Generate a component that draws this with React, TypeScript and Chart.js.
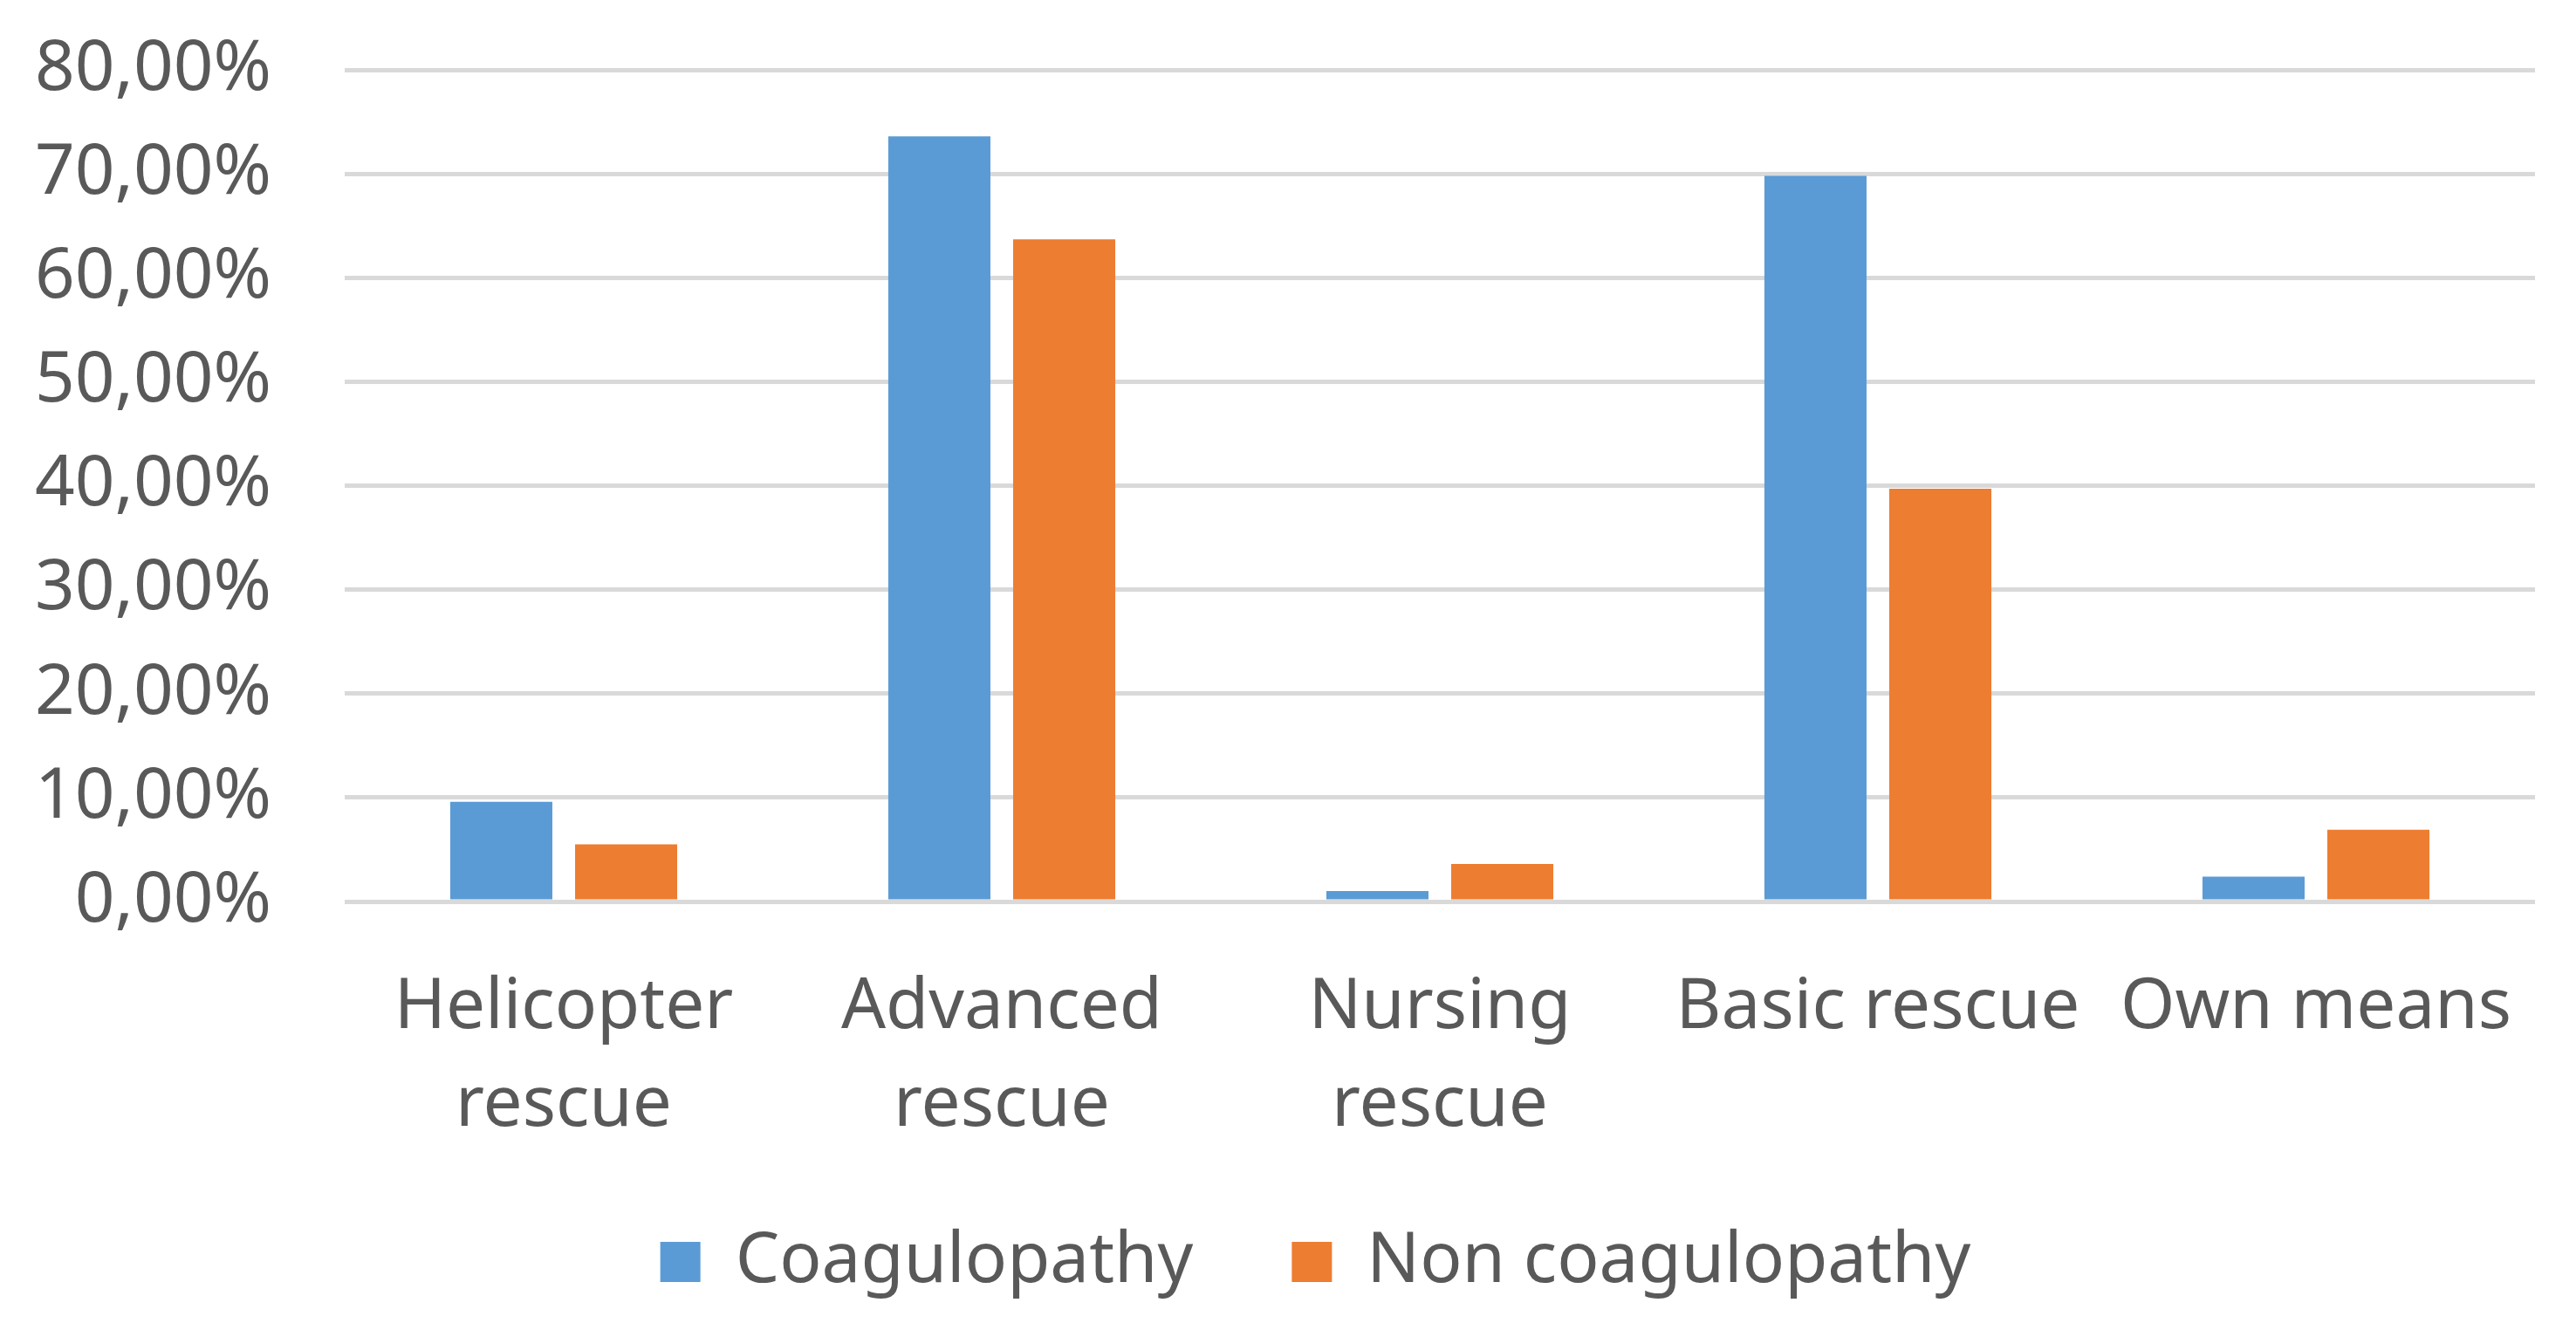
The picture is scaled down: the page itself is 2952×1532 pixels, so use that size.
import React, { useEffect, useRef } from "react";
import { Chart, registerables } from "chart.js";

Chart.register(...registerables);

const categories: (string | string[])[] = [
  ["Helicopter", "rescue"],
  ["Advanced", "rescue"],
  ["Nursing", "rescue"],
  "Basic rescue",
  "Own means",
];
const coagulopathy = [9.6, 73.6, 1.0, 69.8, 2.4];
const nonCoagulopathy = [5.5, 63.7, 3.6, 39.7, 6.9];
const seriesNames = ["Coagulopathy", "Non coagulopathy"];
const yMin = 0;
const yMax = 80;
const yStep = 10;

const FONT = "'Noto Sans', 'Open Sans', sans-serif";
const TEXT = "#595959";

export default function App() {
  const ref = useRef<HTMLCanvasElement | null>(null);

  useEffect(() => {
    if (!ref.current) return;
    const chart = new Chart(ref.current, {
      type: "bar",
      data: {
        labels: categories,
        datasets: [
          {
            label: seriesNames[0],
            data: coagulopathy,
            backgroundColor: "#5B9BD5",
            categoryPercentage: 0.57,
            barPercentage: 0.818,
          },
          {
            label: seriesNames[1],
            data: nonCoagulopathy,
            backgroundColor: "#ED7D31",
            categoryPercentage: 0.57,
            barPercentage: 0.818,
          },
        ],
      },
      options: {
        animation: false,
        responsive: true,
        maintainAspectRatio: false,
        layout: { padding: { top: 80, left: 110, right: 47, bottom: 36 } },
        plugins: {
          tooltip: { enabled: false },
          legend: {
            position: "bottom",
            labels: {
              color: TEXT,
              font: { family: FONT, size: 80 },
              boxWidth: 46,
              boxHeight: 46,
              padding: 113,
            },
          },
        },
        scales: {
          x: {
            grid: { display: false },
            border: { display: false },
            ticks: {
              color: TEXT,
              font: { family: FONT, size: 80, lineHeight: 1.4 },
              padding: 58,
              autoSkip: false,
              maxRotation: 0,
              minRotation: 0,
            },
            afterFit: (scale: any) => {
              scale.height = 260;
              scale._computeLabelArea = () => undefined;
            },
          },
          y: {
            min: yMin,
            max: yMax,
            grid: {
              color: "#d9d9d9",
              lineWidth: 5,
              drawTicks: true,
              tickLength: 84,
              tickColor: "rgba(0,0,0,0)",
            },
            border: { display: false },
            ticks: {
              stepSize: yStep,
              color: TEXT,
              font: { family: FONT, size: 80, lineHeight: 1.2 },
              padding: 0,
              callback: (v: any) => Number(v).toFixed(2).replace(".", ",") + "%",
            },
            afterFit: (scale: any) => {
              scale.width = 285;
              scale._computeLabelArea = () => undefined;
            },
          },
        },
      },
    });
    return () => chart.destroy();
  }, []);

  return (
    <div
      style={{
        position: "fixed",
        left: 0,
        top: 0,
        width: 2952,
        height: 1532,
        background: "#ffffff",
      }}
    >
      <canvas ref={ref} />
    </div>
  );
}
